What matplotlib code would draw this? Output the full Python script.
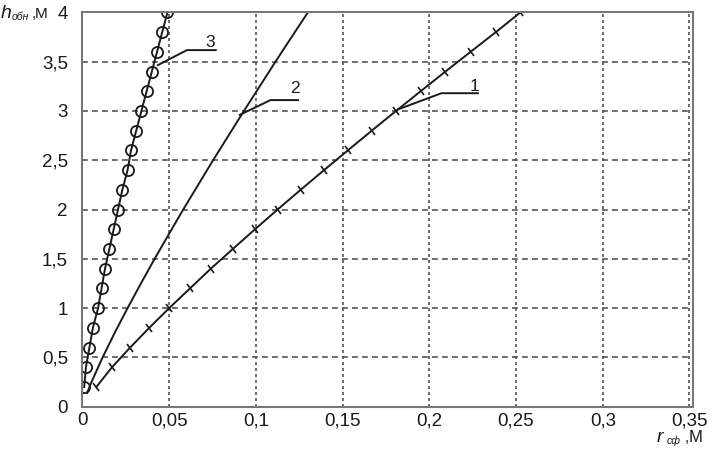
import matplotlib
matplotlib.use("Agg")
import matplotlib.pyplot as plt
from matplotlib.markers import MarkerStyle
from matplotlib.transforms import Affine2D

plt.rcParams['font.family'] = ['Liberation Sans', 'DejaVu Sans']

# curve 1 (crosses), h = 0.2 .. 4.0
h1 = [0.2, 0.4, 0.6, 0.8, 1.0, 1.2, 1.4, 1.6, 1.8, 2.0,
      2.2, 2.4, 2.6, 2.8, 3.0, 3.2, 3.4, 3.6, 3.8, 4.0]
r1 = [0.008, 0.017, 0.0275, 0.0385, 0.050, 0.062, 0.074, 0.0867, 0.0995, 0.1125,
      0.1258, 0.1393, 0.153, 0.1668, 0.1808, 0.195, 0.2093, 0.2238, 0.2384, 0.2525]

# curve 2 (plain line)
h2 = [0.14, 0.25, 0.5, 0.75, 1.0, 1.25, 1.5, 1.75, 2.0,
      2.25, 2.5, 2.75, 3.0, 3.25, 3.5, 3.75, 4.0]
r2 = [0.0027, 0.0052, 0.0116, 0.0186, 0.026, 0.0337, 0.0416, 0.0498, 0.0581,
      0.0667, 0.0753, 0.0842, 0.0931, 0.1022, 0.1113, 0.1206, 0.130]

# curve 3 (circles)
h3 = h1
r3 = [0.001, 0.002, 0.004, 0.006, 0.009, 0.011, 0.013, 0.0155, 0.018, 0.0205,
      0.023, 0.026, 0.028, 0.031, 0.034, 0.037, 0.040, 0.043, 0.046, 0.049]

xticks = [0, 0.05, 0.1, 0.15, 0.2, 0.25, 0.3, 0.35]
xlabels = ['0', '0,05', '0,1', '0,15', '0,2', '0,25', '0,3', '0,35']
yticks = [0, 0.5, 1, 1.5, 2, 2.5, 3, 3.5, 4]
ylabels = ['0', '0,5', '1', '1,5', '2', '2,5', '3', '3,5', '4']

# leader lines for curve numbers: x points, y points, text position
leaders = {
    '1': ([0.182, 0.207, 0.228], [3.016, 3.18, 3.18], (0.226, 3.205)),
    '2': ([0.0907, 0.1084, 0.1243], [2.96, 3.11, 3.11], (0.1224, 3.185)),
    '3': ([0.0435, 0.0602, 0.0769], [3.465, 3.617, 3.617], (0.0737, 3.645)),
}

fig = plt.figure(figsize=(7.14, 4.58), dpi=100)
ax = fig.add_axes([0.1155, 0.112, 0.855, 0.861])

lc = '#1a1a1a'
tick_mk = MarkerStyle('|', transform=Affine2D().rotate_deg(43))
ax.plot(r1, h1, color=lc, lw=1.4, marker=tick_mk, ms=7, mew=1.2)
ax.plot(r2, h2, color=lc, lw=1.4)
ax.plot(r3, h3, color=lc, lw=1.4, marker='o', ms=8, mfc='none', mew=1.3)

for k, (xs, ys, tp) in leaders.items():
    ax.plot(xs, ys, color=lc, lw=1.4)
    ax.text(tp[0], tp[1], k, fontsize=12.5, ha='center', va='baseline', color=lc)

ax.set_xlim(0, 0.352)
ax.set_ylim(0, 4)
ax.set_xticks(xticks)
ax.set_xticklabels(xlabels)
ax.set_yticks(yticks)
ax.set_yticklabels(ylabels)
ax.tick_params(length=0, labelsize=13.5, colors='#1a1a1a')
ax.tick_params(axis='y', pad=10.5)
ax.tick_params(axis='x', pad=4)

for yv in yticks[1:-1]:
    ax.axhline(yv, color='#555555', lw=1.2, ls=(0, (3.5, 2.5)), zorder=0)
for xv in xticks[1:]:
    ax.axvline(xv, color='#555555', lw=1.2, ls=(0, (1.8, 1.8)), zorder=0)

for s in ax.spines.values():
    s.set_color('#777777')
    s.set_linewidth(1.5)

# axis names
fig.text(0.001, 0.961, 'h', fontsize=14, style='italic', color=lc, va='baseline')
fig.text(0.017, 0.956, 'обн', fontsize=7.5, style='italic', color=lc, va='baseline')
fig.text(0.044, 0.961, ',', fontsize=11, color=lc, va='baseline')
fig.text(0.049, 0.961, 'М', fontsize=11, color=lc, va='baseline')

fig.text(0.920, 0.035, 'r', fontsize=14, style='italic', color=lc, va='baseline')
fig.text(0.934, 0.031, 'сф', fontsize=7.5, style='italic', color=lc, va='baseline')
fig.text(0.959, 0.035, ',', fontsize=11, color=lc, va='baseline')
fig.text(0.965, 0.035, 'М', fontsize=12, color=lc, va='baseline')

fig.savefig('out.png', dpi=100)
